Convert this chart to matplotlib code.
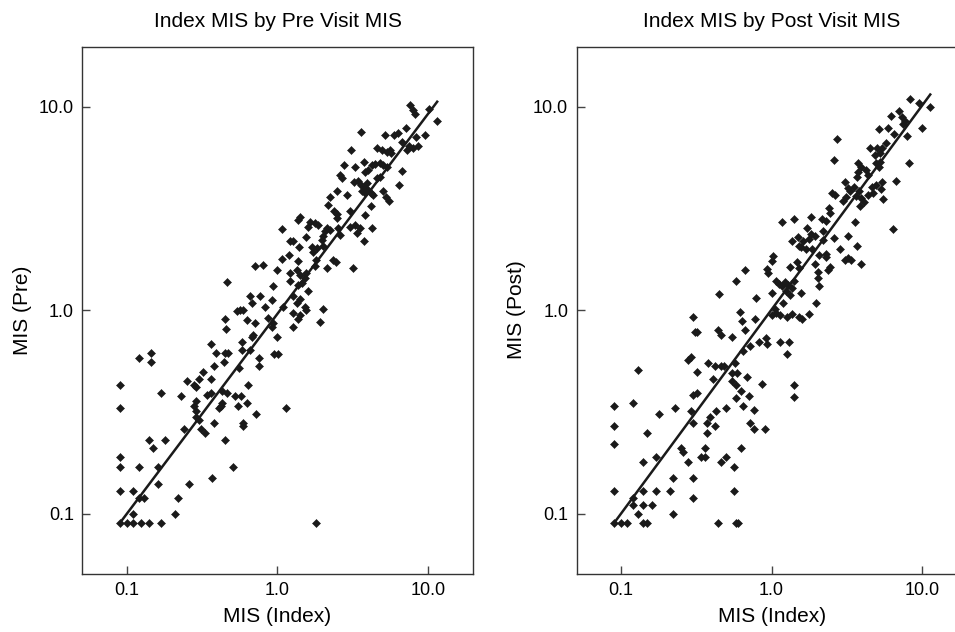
import numpy as np
import matplotlib
matplotlib.use("Agg")
import matplotlib.pyplot as plt

# MIS values: (index, pre) and (index, post)
pre_points = [
    (0.09, 0.09), (0.10, 0.09), (0.11, 0.09), (0.125, 0.09), (0.14, 0.09), (0.17, 0.09), (1.8, 0.09),
    (0.11, 0.10), (0.21, 0.10),
    (0.09, 0.13), (0.11, 0.13), (0.12, 0.12), (0.13, 0.12), (0.22, 0.12),
    (0.16, 0.14), (0.26, 0.14), (0.37, 0.15),
    (0.09, 0.17), (0.12, 0.17), (0.16, 0.17), (0.51, 0.17), (0.09, 0.19),
    (0.14, 0.23), (0.15, 0.21), (0.18, 0.23), (0.45, 0.23),
    (0.24, 0.26), (0.31, 0.26), (0.33, 0.25), (0.38, 0.28), (0.59, 0.28), (0.59, 0.27),
    (0.30, 0.29), (0.29, 0.30), (0.29, 0.32),
    (0.09, 0.33), (0.28, 0.34), (0.29, 0.36),
    (0.42, 0.34), (0.43, 0.35), (0.41, 0.33), (0.55, 0.34), (0.63, 0.35),
    (0.17, 0.39), (0.23, 0.38), (0.36, 0.39), (0.34, 0.385), (0.43, 0.40), (0.46, 0.39),
    (0.52, 0.38), (0.57, 0.38),
    (0.09, 0.43), (0.25, 0.45), (0.28, 0.43), (0.29, 0.42), (0.30, 0.46),
    (0.46, 1.37), (0.45, 0.905), (0.456, 0.81), (0.54, 0.99), (0.565, 1.0),
    (0.36, 0.68), (0.39, 0.62), (0.45, 0.62), (0.47, 0.62), (0.58, 0.64), (0.66, 0.64),
    (0.95, 0.61), (1.01, 0.61),
    (0.38, 0.53), (0.44, 0.56), (0.755, 0.58), (0.755, 0.53), (0.56, 0.52), (0.32, 0.50), (0.36, 0.46),
    (0.69, 0.76), (0.68, 0.74), (0.58, 0.70), (1.0, 0.735),
    (0.64, 0.43), (1.14, 0.33), (0.72, 0.31),
    (0.12, 0.58), (0.145, 0.62), (0.145, 0.56),
    (2.77, 5.19), (3.27, 5.09), (3.74, 5.38), (4.23, 5.19), (4.44, 5.25), (4.80, 5.32), (5.05, 5.19),
    (5.31, 5.09), (4.0, 4.9), (3.8, 4.8), (6.74, 4.86), (2.6, 4.63), (2.67, 4.46), (4.8, 4.54), (4.6, 4.46),
    (3.24, 4.25), (3.44, 4.30), (3.57, 4.14), (3.76, 4.06), (3.91, 4.22), (4.0, 3.91), (4.16, 3.77),
    (4.33, 3.70), (3.63, 3.84), (3.81, 3.77),
    (6.41, 4.14), (5.0, 3.88), (5.25, 3.62), (5.5, 3.43),
    (2.23, 3.60), (2.50, 3.88), (2.88, 3.70), (2.18, 3.30), (4.16, 3.24),
    (2.37, 3.06), (2.50, 2.98), (2.47, 2.84), (3.03, 3.06), (3.81, 2.95),
    (1.41, 2.89), (1.38, 2.78), (1.07, 2.51),
    (1.65, 2.73), (1.78, 2.68), (1.87, 2.63), (1.60, 2.58),
    (2.12, 2.53), (2.07, 2.44), (2.23, 2.47), (2.02, 2.31), (2.54, 2.53), (2.60, 2.35),
    (3.03, 2.58), (3.27, 2.63), (3.53, 2.53), (3.36, 2.39), (4.23, 2.55), (3.76, 2.18),
    (1.21, 2.18), (1.26, 2.20), (1.56, 2.29), (1.40, 2.04),
    (1.97, 2.22), (2.02, 2.07), (1.84, 2.02), (1.73, 1.94), (1.69, 2.04),
    (1.07, 1.79), (1.20, 1.87), (1.38, 1.74), (0.71, 1.65), (0.80, 1.67),
    (2.35, 1.77), (2.45, 1.72), (2.14, 1.61), (1.80, 1.77), (1.78, 1.65), (3.16, 1.61),
    (0.99, 1.58), (1.21, 1.53), (1.34, 1.58), (1.41, 1.49), (1.56, 1.52), (1.52, 1.44), (1.45, 1.36),
    (1.60, 1.24), (1.38, 1.33), (1.21, 1.39),
    (0.94, 1.32), (0.66, 1.17), (0.77, 1.17),
    (0.83, 1.04), (0.92, 1.12), (1.09, 1.04), (1.27, 1.17), (1.41, 1.13), (1.34, 1.08), (1.52, 1.04),
    (0.59, 1.0), (0.68, 1.08), (0.63, 0.90), (0.71, 0.87), (0.87, 0.915), (0.94, 0.87),
    (1.27, 0.97), (1.41, 0.95), (1.36, 0.905), (1.56, 1.0), (2.0, 1.01), (1.92, 0.88), (1.27, 0.83), (0.92, 0.83),
    (7.6, 10.2), (7.9, 9.7), (8.2, 9.2), (10.2, 9.8), (11.4, 8.5), (3.6, 7.5), (7.1, 7.9),
    (5.2, 7.3), (5.9, 7.3), (6.3, 7.4), (8.3, 7.1), (9.5, 7.3),
    (6.7, 6.75), (7.5, 6.4), (8.0, 6.3), (7.3, 6.15), (8.6, 6.4),
    (4.56, 6.31), (4.92, 6.15), (5.31, 6.03), (5.65, 5.92), (5.59, 6.15), (3.06, 6.15),
]

post_points = [
    (0.09, 0.09), (0.10, 0.09), (0.11, 0.09), (0.14, 0.09), (0.15, 0.09), (0.44, 0.09), (0.58, 0.09), (0.60, 0.09),
    (0.12, 0.11), (0.14, 0.11), (0.16, 0.11), (0.13, 0.10), (0.22, 0.10),
    (0.12, 0.12), (0.09, 0.13), (0.14, 0.13), (0.17, 0.13), (0.21, 0.13), (0.30, 0.12), (0.56, 0.13),
    (0.22, 0.15), (0.30, 0.15), (0.14, 0.18), (0.17, 0.19), (0.25, 0.21), (0.26, 0.20), (0.28, 0.18),
    (0.34, 0.19), (0.36, 0.19), (0.36, 0.21), (0.46, 0.18), (0.50, 0.19), (0.56, 0.17), (0.63, 0.21),
    (0.09, 0.22), (0.09, 0.27), (0.09, 0.34), (0.12, 0.35), (0.15, 0.25), (0.18, 0.31), (0.23, 0.33),
    (0.29, 0.32), (0.30, 0.28),
    (0.30, 0.385), (0.32, 0.39), (0.37, 0.28), (0.39, 0.30), (0.43, 0.32), (0.37, 0.25), (0.42, 0.27),
    (0.50, 0.33), (0.58, 0.37), (0.63, 0.40), (0.13, 0.51),
    (0.67, 1.58), (0.58, 1.40), (0.45, 1.20), (0.93, 1.59), (0.94, 1.53), (1.0, 1.74), (1.32, 1.63),
    (1.47, 1.72), (1.52, 1.61),
    (1.93, 1.69), (2.03, 1.55), (2.03, 1.44), (2.06, 1.31), (1.96, 1.08),
    (1.07, 1.39), (1.12, 1.35), (1.18, 1.31), (1.22, 1.37), (1.28, 1.33), (1.25, 1.25), (1.37, 1.29),
    (1.40, 1.40), (1.32, 1.19), (1.57, 1.21),
    (1.0, 1.21), (0.79, 1.15), (1.19, 1.08), (1.05, 1.01), (1.07, 0.97),
    (1.0, 0.95), (1.13, 0.95), (1.26, 0.93), (1.37, 0.96), (1.53, 0.93), (1.60, 0.91), (1.77, 0.96),
    (0.62, 0.98), (0.64, 0.89), (0.77, 0.91), (0.30, 0.93), (0.31, 0.78), (0.32, 0.78), (0.44, 0.80),
    (0.46, 0.76), (0.55, 0.74), (0.67, 0.80),
    (0.83, 0.70), (0.92, 0.73), (0.93, 0.68), (1.13, 0.70), (1.30, 0.70), (1.26, 0.61), (0.72, 0.67), (0.65, 0.63),
    (0.29, 0.59), (0.28, 0.57), (0.38, 0.55), (0.42, 0.53), (0.46, 0.53), (0.48, 0.53), (0.32, 0.50),
    (0.57, 0.55), (0.41, 0.46),
    (0.55, 0.49), (0.59, 0.49), (0.55, 0.45), (0.58, 0.43), (0.69, 0.47), (0.71, 0.38), (0.87, 0.435),
    (1.40, 0.43), (1.40, 0.375),
    (0.72, 0.28), (0.76, 0.325), (0.76, 0.26), (0.90, 0.26), (0.65, 0.34),
    (2.6, 5.5), (3.74, 5.29), (3.93, 5.05), (4.90, 5.32), (5.21, 5.38), (5.15, 5.05), (8.2, 5.3),
    (3.74, 4.81), (4.21, 4.90), (4.36, 4.63), (3.68, 4.54), (6.65, 4.34),
    (5.42, 4.25), (4.93, 4.14), (4.64, 4.06), (5.33, 3.94), (4.71, 3.77), (4.36, 3.70), (5.47, 3.52),
    (3.05, 4.25), (3.21, 3.99), (3.32, 3.84), (3.50, 4.06), (3.80, 3.88), (3.64, 3.65), (3.93, 3.56),
    (4.08, 3.39), (3.87, 3.24), (3.12, 3.62), (2.97, 3.43), (2.52, 3.77), (2.62, 3.70),
    (2.17, 2.81), (2.28, 2.76), (2.45, 3.0), (2.40, 3.18),
    (1.83, 2.87), (3.56, 2.73), (6.4, 2.5), (1.18, 2.73), (1.40, 2.81),
    (1.71, 2.53), (1.83, 2.38), (1.93, 2.32), (1.77, 2.24), (1.61, 2.18), (1.57, 2.04), (1.68, 2.0),
    (1.50, 2.29), (1.37, 2.20), (1.52, 2.07), (1.86, 2.0),
    (2.21, 2.44), (2.58, 2.26), (3.21, 2.32), (3.68, 2.07), (2.85, 2.0), (3.21, 1.80), (3.05, 1.77),
    (3.38, 1.76), (3.93, 1.69),
    (2.19, 2.22), (2.30, 1.90), (2.06, 1.87), (2.28, 1.83), (2.43, 1.64), (2.37, 1.58), (1.02, 1.84),
    (8.24, 10.9), (9.49, 10.4), (11.3, 9.93), (7.0, 9.55), (6.22, 9.06), (7.36, 8.96), (7.64, 8.53), (7.42, 8.22),
    (5.17, 7.80), (5.92, 7.91), (6.45, 7.34), (10.0, 7.9), (7.89, 7.23), (2.71, 6.96),
    (5.71, 6.63), (5.42, 6.31), (5.0, 6.27), (4.47, 6.31), (5.26, 5.92), (4.82, 5.81),
]

# regression line end points
pre_fit_x = [0.09, 11.5]
pre_fit_y = [0.09, 10.6]
post_fit_x = [0.09, 11.3]
post_fit_y = [0.09, 11.5]

tick_vals = [0.1, 1.0, 10.0]
tick_labels = ["0.1", "1.0", "10.0"]

plt.rcParams['font.family'] = ['Liberation Sans', 'DejaVu Sans']

INK = '#1a1a1a'

fig = plt.figure(figsize=(9.55, 6.32), dpi=100)
ax_pre = fig.add_axes([0.0862, 0.0922, 0.4088, 0.8342])
ax_post = fig.add_axes([0.6037, 0.0922, 0.4088, 0.8342])


def draw(ax, pts, fit_x, fit_y, title, ylabel):
    x, y = np.array(pts).T
    ax.plot(fit_x, fit_y, color=INK, lw=1.8, zorder=2)
    ax.plot(x, y, 'D', ms=4.3, color=INK, mec=INK, mew=0.4, zorder=3)
    ax.set_xscale('log')
    ax.set_yscale('log')
    ax.set_xlim(0.0507, 19.8)
    ax.set_ylim(0.0507, 19.8)
    ax.set_xticks(tick_vals)
    ax.set_xticklabels(tick_labels)
    ax.set_yticks(tick_vals)
    ax.set_yticklabels(tick_labels)
    ax.minorticks_off()
    ax.tick_params(direction='in', length=5.5, width=1.0, color='#444444',
                   labelsize=13, pad=6)
    for sp in ax.spines.values():
        sp.set_color('#333333')
        sp.set_linewidth(1.0)
    ax.set_title(title, fontsize=15, pad=14)
    ax.set_xlabel("MIS (Index)", fontsize=15, labelpad=6)
    ax.set_ylabel(ylabel, fontsize=15, labelpad=5)


draw(ax_pre, pre_points, pre_fit_x, pre_fit_y, "Index MIS by Pre Visit MIS", "MIS (Pre)")
draw(ax_post, post_points, post_fit_x, post_fit_y, "Index MIS by Post Visit MIS", "MIS (Post)")

fig.savefig("out.png", dpi=100)
